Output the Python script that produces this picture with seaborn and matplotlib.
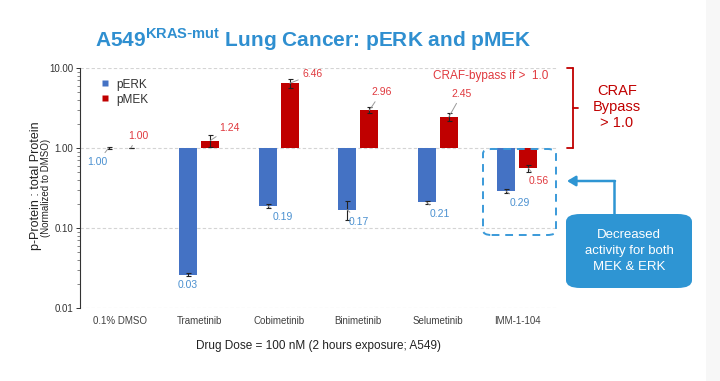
import numpy as np
import pandas as pd
import matplotlib
matplotlib.use("Agg")
import matplotlib.pyplot as plt
from matplotlib.patches import FancyBboxPatch, Rectangle
from matplotlib.lines import Line2D
import seaborn as sns

# data
drugs = ["0.1% DMSO", "Trametinib", "Cobimetinib", "Binimetinib", "Selumetinib", "IMM-1-104"]
perk = [1.00, 0.026, 0.19, 0.17, 0.21, 0.29]
perk_err = [0.03, 0.001, 0.01, 0.045, 0.01, 0.015]
pmek = [1.00, 1.24, 6.46, 2.96, 2.45, 0.56]
pmek_err = [0.0, 0.2, 0.9, 0.25, 0.3, 0.06]
yticks = [0.01, 0.1, 1, 10]
ytick_labels = ["0.01", "0.10", "1.00", "10.00"]

BLUE = "#4472C4"
RED = "#C00000"
BLUE_TXT = "#4A90D0"
RED_TXT = "#E0393E"
CALLOUT = "#2E95D3"

sns.set_style("white")
plt.rcParams["font.family"] = ["Liberation Sans", "DejaVu Sans"]

fig = plt.figure(figsize=(7.2, 3.81), dpi=100)
fig.patch.set_facecolor("white")
W, H = 720.0, 381.0


def px(x, y):
    return x / W, 1 - y / H


# light grey strip at the right edge of the slide
fig.add_artist(Rectangle((706 / W, 0), 1 - 706 / W, 1, transform=fig.transFigure,
                         facecolor="#f7f7f7", edgecolor="none", zorder=0))

ax = fig.add_axes([80 / W, 1 - 308 / H, (557 - 80) / W, (308 - 68) / H])

# bars start at 1.0 -> heights are value - 1 with bottom=1, log scale applied after
df = pd.DataFrame({
    "drug": drugs * 2,
    "protein": ["pERK"] * len(drugs) + ["pMEK"] * len(drugs),
    "value": perk + pmek,
})
df["height"] = df["value"] - 1
sns.barplot(data=df, x="drug", y="height", hue="protein", order=drugs,
            palette={"pERK": BLUE, "pMEK": RED}, saturation=1, width=0.56, gap=0.2,
            errorbar=None, bottom=1, legend=False, ax=ax, zorder=3,
            linewidth=0)

ax.set_yscale("log")
ax.set_ylim(0.01, 10)
ax.set_xlim(-0.5, len(drugs) - 0.5)

xs = np.arange(len(drugs))
off = 0.14
ax.errorbar(xs - off, perk, yerr=perk_err, fmt="none", ecolor="#222222",
            elinewidth=0.8, capsize=1.8, capthick=0.8, zorder=4)
ax.errorbar(xs + off, pmek, yerr=pmek_err, fmt="none", ecolor="#222222",
            elinewidth=0.8, capsize=1.8, capthick=0.8, zorder=4)

# value labels with small grey leader lines (offsets in pixels)
perk_off = [(-11, -14), (0, -10), (15, -11), (12, -12), (13, -12), (14, -12)]
pmek_off = [(7, 12), (19, 13), (23, 9), (12, 18), (13, 23), (10, -13)]
for i in range(len(drugs)):
    dx, dy = perk_off[i]
    if i == 1:
        ax.annotate(f"{perk[i]:.2f}", xy=(xs[i] - off, perk[i]), xytext=(dx, dy),
                    textcoords="offset pixels", ha="center", va="center",
                    color=BLUE_TXT, fontsize=7.5, zorder=5)
    else:
        ax.annotate(f"{perk[i]:.2f}", xy=(xs[i] - off, perk[i]), xytext=(dx, dy),
                    textcoords="offset pixels", ha="center", va="center",
                    color=BLUE_TXT, fontsize=7.5, zorder=5,
                    arrowprops=dict(arrowstyle="-", color="#999999", lw=0.7,
                                    shrinkA=1, shrinkB=0))
    dx, dy = pmek_off[i]
    ax.annotate(f"{pmek[i]:.2f}", xy=(xs[i] + off, pmek[i]), xytext=(dx, dy),
                textcoords="offset pixels", ha="center", va="center",
                color=RED_TXT, fontsize=7.5, zorder=5,
                arrowprops=dict(arrowstyle="-", color="#999999", lw=0.7,
                                shrinkA=1, shrinkB=0))

# axes styling
for s in ["top", "right", "bottom"]:
    ax.spines[s].set_visible(False)
ax.spines["left"].set_color("#333333")
ax.spines["left"].set_linewidth(0.8)
ax.set_yticks(yticks)
ax.set_yticklabels(ytick_labels)
ax.tick_params(axis="y", which="major", direction="out", length=3, width=0.7,
               labelsize=7, colors="#333333", left=True, pad=2)
ax.tick_params(axis="y", which="minor", direction="out", length=2, width=0.5,
               colors="#555555", left=True)
ax.tick_params(axis="x", length=0, labelsize=7, colors="#404040", pad=6)
ax.yaxis.grid(True, which="major", linestyle=(0, (3, 2)), color="#d4d4d4", lw=0.8)
ax.set_axisbelow(True)
ax.set_xlabel("Drug Dose = 100 nM (2 hours exposure; A549)", fontsize=8.5,
              color="#222222", labelpad=10)
ax.set_ylabel("")

# legend
handles = [Line2D([], [], marker="s", color="none", markerfacecolor=c,
                  markeredgecolor="none", markersize=5, label=l)
           for l, c in [("pERK", BLUE), ("pMEK", RED)]]
ax.legend(handles=handles, loc="upper left", bbox_to_anchor=(0.02, 1.0),
          frameon=False, fontsize=8.5, handlelength=0.8, handletextpad=0.6,
          labelspacing=0.25, labelcolor="#333333")

# y labels
fig.text(*px(36, 186), "p-Protein : total Protein", rotation=90, ha="center",
         va="center", fontsize=9, color="#222222")
fig.text(*px(46, 188), "(Normalized to DMSO)", rotation=90, ha="center",
         va="center", fontsize=7, color="#222222")

# title
fig.text(*px(313, 40), r"A549$^{\mathregular{KRAS\text{-}mut}}$ Lung Cancer: pERK and pMEK",
         ha="center", va="center", fontsize=15, fontweight="bold", color="#2F8FD0")

# CRAF bypass annotations
fig.text(*px(491, 76), "CRAF-bypass if >  1.0", ha="center", va="center",
         fontsize=8.5, color=RED_TXT)
bx = 573
for seg in [((567, 68), (bx, 68)), ((bx, 68), (bx, 148)), ((567, 148), (bx, 148)),
            ((bx, 108), (578, 108))]:
    (x0, y0), (x1, y1) = seg
    fig.add_artist(Line2D([x0 / W, x1 / W], [1 - y0 / H, 1 - y1 / H],
                          transform=fig.transFigure, color=RED, lw=1.3))
fig.text(*px(617, 107), "CRAF\nBypass\n> 1.0", ha="center", va="center",
         fontsize=10.5, color=RED, linespacing=1.15)

# dashed box around IMM-1-104
fig.add_artist(FancyBboxPatch(px(483, 235), (556 - 483) / W, (235 - 149) / H,
                              boxstyle="round,pad=0,rounding_size=0.012",
                              transform=fig.transFigure, fill=False,
                              edgecolor="#3A9AD9", lw=1.4, linestyle=(0, (4, 3))))

# callout box + arrow
fig.add_artist(FancyBboxPatch(px(566, 288), (692 - 566) / W, (288 - 214) / H,
                              boxstyle="round,pad=0,rounding_size=0.02",
                              transform=fig.transFigure, facecolor=CALLOUT,
                              edgecolor="none"))
fig.text(*px(629, 251), "Decreased\nactivity for both\nMEK & ERK", ha="center",
         va="center", fontsize=9.5, color="white", linespacing=1.45)
fig.add_artist(Line2D([614 / W, 614 / W], [1 - 214 / H, 1 - 181 / H],
                      transform=fig.transFigure, color=CALLOUT, lw=1.8))
ax.annotate("", xy=px(567, 181), xytext=px(615, 181), xycoords="figure fraction",
            textcoords="figure fraction",
            arrowprops=dict(arrowstyle="-|>,head_length=0.5,head_width=0.3",
                            color=CALLOUT, lw=1.8, shrinkA=0, shrinkB=0))

fig.savefig("out.png", dpi=100)
